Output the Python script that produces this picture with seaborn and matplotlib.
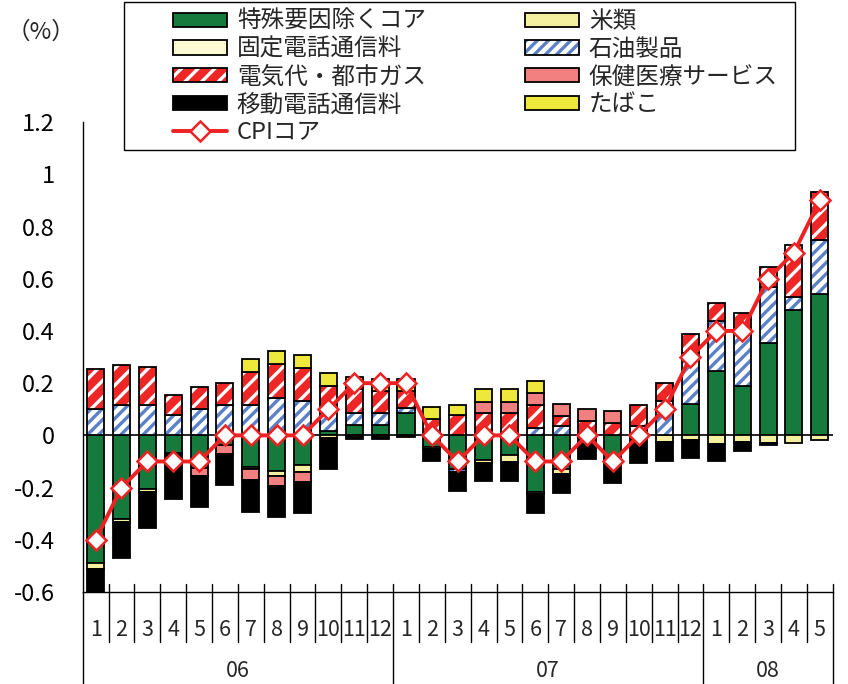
import numpy as np
import pandas as pd
import matplotlib
matplotlib.use('Agg')
import matplotlib.pyplot as plt
import matplotlib.transforms as mtransforms
from matplotlib.patches import Patch, Rectangle
from matplotlib.lines import Line2D
import seaborn as sns

# month labels (2006/1 - 2008/5)
months = [str(m) for m in range(1, 13)] + [str(m) for m in range(1, 13)] + [str(m) for m in range(1, 6)]
years = ['06', '07', '08']
year_first = [0, 12, 24]
year_last = [11, 23, 28]

# contributions (% points)
core = [-0.487, -0.32, -0.204, -0.066, -0.124, -0.038, -0.12, -0.136, -0.113, 0.017,
        0.038, 0.038, 0.084, -0.043, -0.127, -0.094, -0.077, -0.217, -0.13, -0.01,
        -0.092, 0.0, 0.0, 0.122, 0.246, 0.191, 0.352, 0.482, 0.543]
rice = [-0.023, -0.01, -0.013, 0.0, 0.0, 0.0, -0.008, -0.02, -0.027, -0.012,
        0.0, 0.0, 0.0, -0.011, 0.0, -0.011, -0.025, -0.009, -0.019, 0.0,
        0.0, -0.01, -0.026, -0.018, -0.032, -0.026, -0.028, -0.031, -0.019]
fixed_phone = [0.0] * 29
oil = [0.10, 0.115, 0.115, 0.077, 0.10, 0.115, 0.115, 0.144, 0.131, 0.089,
       0.049, 0.046, 0.022, 0.0, -0.013, 0.0, 0.0, 0.029, 0.035, 0.0,
       0.0, 0.035, 0.131, 0.194, 0.191, 0.219, 0.217, 0.048, 0.207]
electricity = [0.155, 0.155, 0.145, 0.076, 0.085, 0.085, 0.129, 0.131, 0.128, 0.083,
               0.089, 0.086, 0.064, 0.061, 0.077, 0.084, 0.084, 0.086, 0.039, 0.055,
               0.046, 0.08, 0.07, 0.072, 0.07, 0.058, 0.076, 0.2, 0.182]
health = [0.0, 0.0, 0.0, 0.0, -0.032, -0.035, -0.043, -0.038, -0.039, 0.0,
          0.0, 0.0, 0.0, 0.0, 0.0, 0.045, 0.045, 0.046, 0.048, 0.047,
          0.047, 0.0, 0.0, 0.0, 0.0, 0.0, 0.0, 0.0, 0.0]
mobile = [-0.13, -0.14, -0.136, -0.179, -0.118, -0.117, -0.121, -0.118, -0.117, -0.118,
          -0.013, -0.013, -0.006, -0.044, -0.075, -0.07, -0.073, -0.072, -0.073, -0.082,
          -0.092, -0.097, -0.072, -0.067, -0.066, -0.034, -0.007, 0.0, 0.0]
tobacco = [0.0, 0.0, 0.0, 0.0, 0.0, 0.0, 0.049, 0.047, 0.05, 0.051,
           0.047, 0.047, 0.047, 0.047, 0.039, 0.049, 0.049, 0.047, 0.0, 0.0,
           0.0, 0.0, 0.0, 0.0, 0.0, 0.0, 0.0, 0.0, 0.0]
cpi_core = [-0.4, -0.2, -0.1, -0.1, -0.1, 0.0, 0.0, 0.0, 0.0, 0.1,
            0.2, 0.2, 0.2, 0.0, -0.1, 0.0, 0.0, -0.1, -0.1, 0.0,
            -0.1, 0.0, 0.1, 0.3, 0.4, 0.4, 0.6, 0.7, 0.9]

# name, values, face colour, hatch colour, hatch
series = [
    ('特殊要因除くコア', core, '#167a3c', None, None),
    ('米類', rice, '#f5f0a0', None, None),
    ('固定電話通信料', fixed_phone, '#fdfbd4', None, None),
    ('石油製品', oil, 'white', '#5a80c8', '///'),
    ('電気代・都市ガス', electricity, '#ee2626', 'white', '//'),
    ('保健医療サービス', health, '#f28080', None, None),
    ('移動電話通信料', mobile, 'black', None, None),
    ('たばこ', tobacco, '#eee83c', None, None),
]

sns.set_style('white')
plt.rcParams['font.family'] = ['Noto Sans CJK JP', 'DejaVu Sans']
plt.rcParams['axes.unicode_minus'] = False
plt.rcParams['hatch.linewidth'] = 2.4

fig = plt.figure(figsize=(8.48, 6.84), dpi=100)
ax = fig.add_axes([0.0975, 0.1345, 0.8845, 0.687])

x = np.arange(len(months))
width = 0.66
pos_bottom = np.zeros(len(x))
neg_bottom = np.zeros(len(x))
handles = {}
for name, vals, face, hcol, hatch in series:
    vals = np.array(vals)
    bottom = np.where(vals >= 0, pos_bottom, neg_bottom)
    m = vals != 0
    if hatch:
        ax.bar(x[m], vals[m], width, bottom=bottom[m], color=face, edgecolor=hcol,
               hatch=hatch, linewidth=0, zorder=2)
        ax.bar(x[m], vals[m], width, bottom=bottom[m], fill=False, edgecolor='black',
               linewidth=1.3, zorder=2)
        handles[name] = (Patch(facecolor=face, edgecolor=hcol, hatch=hatch, linewidth=0),
                         Patch(fill=False, edgecolor='black', linewidth=1.3))
    else:
        ax.bar(x[m], vals[m], width, bottom=bottom[m], color=face, edgecolor='black',
               linewidth=1.3, zorder=2)
        handles[name] = Patch(facecolor=face, edgecolor='black', linewidth=1.3)
    pos_bottom = pos_bottom + np.where(vals > 0, vals, 0)
    neg_bottom = neg_bottom + np.where(vals < 0, vals, 0)

df = pd.DataFrame({'x': x, 'cpi': cpi_core})
sns.lineplot(data=df, x='x', y='cpi', color='#ee2222', linewidth=2.8, marker='D',
             markersize=10, markerfacecolor='white', markeredgecolor='#ee2222',
             markeredgewidth=1.8, zorder=5, ax=ax)
handles['CPIコア'] = Line2D([], [], color='#ee2222', linewidth=2.8, marker='D', markersize=10,
                            markerfacecolor='white', markeredgecolor='#ee2222', markeredgewidth=1.8)

ax.axhline(0, color='black', linewidth=1.2, zorder=1)

ax.set_xlim(-0.5, len(x) - 0.5)
ax.set_ylim(-0.6, 1.2)
ax.set_yticks(np.arange(-0.6, 1.21, 0.2))
ax.set_yticklabels([f'{v:.1f}'.rstrip('0').rstrip('.') if abs(v) > 1e-9 else '0'
                    for v in np.arange(-0.6, 1.21, 0.2)], fontsize=17)
ax.tick_params(axis='y', direction='in', length=5, width=1, pad=20, colors='black')
ax.set_xticks([])
ax.set_xlabel('')
ax.set_ylabel('')
for s in ['top', 'right']:
    ax.spines[s].set_visible(False)
for s in ['left', 'bottom']:
    ax.spines[s].set_color('black')
    ax.spines[s].set_linewidth(1.0)

# category axis with month and year rows
trans = mtransforms.blended_transform_factory(ax.transData, ax.transAxes)
ax_h = 471.0
y_top = 8 / ax_h
y_month_sep = -(642 - 592) / ax_h
y_bottom = -(684 - 592) / ax_h
for i in range(1, len(x)):
    xb = i - 0.5
    low = y_bottom if i in year_first else y_month_sep
    ax.add_line(Line2D([xb, xb], [y_top, low], transform=trans, color='black',
                       linewidth=1.0, clip_on=False))
ax.add_line(Line2D([-0.5, -0.5], [0, y_bottom], transform=trans, color='black',
                   linewidth=1.0, clip_on=False))
ax.add_line(Line2D([len(x) - 0.5] * 2, [y_top, y_bottom], transform=trans, color='black',
                   linewidth=1.0, clip_on=False))
for i, lab in enumerate(months):
    ax.text(i, -(630 - 592) / ax_h, lab, transform=trans, ha='center', va='center',
            fontsize=15.5)
for yr, a, b in zip(years, year_first, year_last):
    ax.text((a + b) / 2, -(671 - 592) / ax_h, yr, transform=trans, ha='center',
            va='center', fontsize=15.5)

fig.text(0.008, 1 - 32 / 684, '（%）', fontsize=17, va='center', ha='left')

# legend frame and entries
fig.patches.append(Rectangle((124 / 848, 1 - 150 / 684), (795 - 124) / 848, 148 / 684,
                             transform=fig.transFigure, fill=False, edgecolor='black',
                             linewidth=1.0))
order = ['特殊要因除くコア', '固定電話通信料', '電気代・都市ガス', '移動電話通信料', 'CPIコア',
         '米類', '石油製品', '保健医療サービス', 'たばこ']
fig.legend([handles[k] for k in order], order, loc='upper left',
           bbox_to_anchor=(166 / 848, 1 - 3 / 684), ncol=2, frameon=False,
           fontsize=17, handlelength=2.3, handleheight=0.55, handletextpad=0.4,
           labelspacing=0.2, columnspacing=4.2, borderaxespad=0, borderpad=0.3)

fig.savefig('out.png', dpi=100)
